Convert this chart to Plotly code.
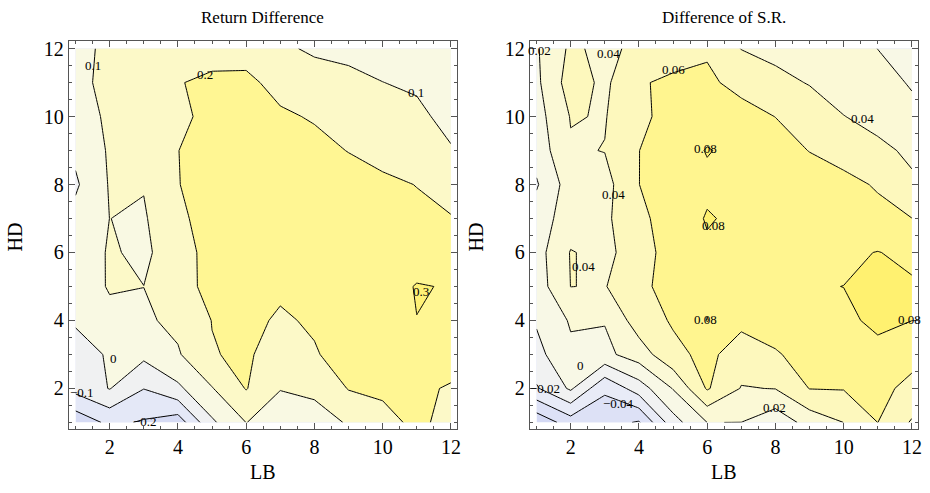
import plotly.graph_objects as go

# ---------------- data ----------------
LB = [1, 2, 3, 4, 5, 6, 7, 8, 9, 10, 11, 12]
HD = [1, 2, 3, 4, 5, 6, 7, 8, 9, 10, 11, 12]

# Return Difference (rows: HD = 1..12, columns: LB = 1..12)
ret_hd1 = [-0.268, -0.177, -0.21, -0.255, -0.016, 0.101, 0.07, 0.08, 0.104, 0.17, 0.22, 0.17]
ret_hd2 = [-0.068, 0.004, -0.098, -0.02, 0.095, 0.205, 0.102, 0.11, 0.205, 0.217, 0.21, 0.195]
ret_hd3 = [-0.04, 0.01, 0.023, 0.09, 0.195, 0.215, 0.15, 0.19, 0.25, 0.25, 0.25, 0.225]
ret_hd4 = [0.011, 0.068, 0.085, 0.123, 0.202, 0.23, 0.185, 0.215, 0.27, 0.27, 0.299, 0.27]
ret_hd5 = [0.03, 0.11, 0.1005, 0.16, 0.23, 0.24, 0.22, 0.25, 0.275, 0.26, 0.305, 0.295]
ret_hd6 = [0.04, 0.109, 0.083, 0.15, 0.24, 0.25, 0.26, 0.27, 0.27, 0.26, 0.255, 0.24]
ret_hd7 = [0.03, 0.1005, 0.09, 0.18, 0.24, 0.25, 0.25, 0.25, 0.25, 0.24, 0.22, 0.207]
ret_hd8 = [-0.014, 0.107, 0.105, 0.197, 0.24, 0.245, 0.245, 0.24, 0.23, 0.218, 0.198, 0.15]
ret_hd9 = [0.02, 0.111, 0.13, 0.199, 0.23, 0.24, 0.23, 0.22, 0.198, 0.17, 0.15, 0.108]
ret_hd10 = [0.04, 0.122, 0.14, 0.184, 0.22, 0.23, 0.21, 0.194, 0.16, 0.13, 0.123, 0.068]
ret_hd11 = [0.05, 0.15, 0.16, 0.195, 0.22, 0.215, 0.178, 0.16, 0.13, 0.101, 0.085, 0.07]
ret_hd12 = [0.06, 0.129, 0.15, 0.17, 0.16, 0.173, 0.123, 0.08, 0.07, 0.06, 0.05, 0.04]

# Difference of S.R. (rows: HD = 1..12, columns: LB = 1..12)
sr_hd1 = [-0.075, -0.05, -0.052, -0.062, -0.008, 0.0201, 0.0199, 0.006, 0.028, 0.0401, 0.0601, 0.038]
sr_hd2 = [-0.022, 0.003, -0.037, -0.01, 0.021, 0.062, 0.039, 0.0405, 0.0605, 0.061, 0.065, 0.055]
sr_hd3 = [-0.006, 0.016, 0.015, 0.03, 0.055, 0.065, 0.05, 0.058, 0.068, 0.07, 0.076, 0.066]
sr_hd4 = [0.002, 0.022, 0.021, 0.05, 0.062, 0.0805, 0.065, 0.07, 0.075, 0.077, 0.083, 0.0801]
sr_hd5 = [0.01, 0.0402, 0.039, 0.055, 0.068, 0.076, 0.078, 0.079, 0.079, 0.0801, 0.083, 0.082]
sr_hd6 = [0.012, 0.041, 0.035, 0.05, 0.07, 0.077, 0.077, 0.078, 0.078, 0.077, 0.0805, 0.076]
sr_hd7 = [0.01, 0.03, 0.036, 0.056, 0.068, 0.0815, 0.076, 0.075, 0.074, 0.073, 0.066, 0.0602]
sr_hd8 = [-0.002, 0.03, 0.033, 0.0598, 0.072, 0.076, 0.075, 0.073, 0.07, 0.0658, 0.058, 0.0434]
sr_hd9 = [0.008, 0.038, 0.0405, 0.0598, 0.07, 0.081, 0.075, 0.068, 0.0595, 0.052, 0.045, 0.036]
sr_hd10 = [0.012, 0.041, 0.039, 0.055, 0.068, 0.072, 0.066, 0.0598, 0.05, 0.0405, 0.033, 0.023]
sr_hd11 = [0.016, 0.049, 0.036, 0.059, 0.062, 0.063, 0.055, 0.045, 0.039, 0.03, 0.024, 0.019]
sr_hd12 = [0.018, 0.0435, 0.035, 0.045, 0.055, 0.058, 0.0395, 0.035, 0.03, 0.025, 0.0199, 0.015]

ret_levels = dict(start=-0.2, end=0.3, size=0.1)
sr_levels = dict(start=-0.06, end=0.08, size=0.02)

# contour labels (text, LB, HD)
ret_labels = [("0.1", 1.52, 11.5), ("0.2", 4.78, 11.24), ("0.1", 10.97, 10.72),
              ("0.3", 11.12, 4.86), ("0", 2.12, 2.88), ("\u22120.1", 1.2, 1.87),
              ("\u22120.2", 3.03, 1.02)]
sr_labels = [("0.02", 1.1, 11.95), ("0.04", 3.1, 11.86), ("0.06", 5.0, 11.39),
             ("0.04", 3.25, 7.72), ("0.08", 5.94, 9.05), ("0.04", 10.56, 9.95),
             ("0.08", 6.2, 6.79), ("0.04", 2.38, 5.59), ("0.08", 5.94, 4.03),
             ("0.08", 11.94, 4.03), ("0", 2.29, 2.67), ("\u22120.02", 1.25, 1.99),
             ("\u22120.04", 3.4, 1.56), ("0.02", 7.98, 1.45)]

ret_colors = ['#d6dbf4', '#e4e8f7', '#f0f1f2', '#f9f9e3', '#fcf9c8', '#fff693', '#fff176']
sr_colors = ['#d4d9f4', '#dde1f6', '#e8ebf7', '#f1f2f2', '#f8f8e6', '#fbf9d6',
             '#fdf8bd', '#fff58f', '#fff170']

# ---------------- figure ----------------
ret_z = [ret_hd1, ret_hd2, ret_hd3, ret_hd4, ret_hd5, ret_hd6,
         ret_hd7, ret_hd8, ret_hd9, ret_hd10, ret_hd11, ret_hd12]
sr_z = [sr_hd1, sr_hd2, sr_hd3, sr_hd4, sr_hd5, sr_hd6,
        sr_hd7, sr_hd8, sr_hd9, sr_hd10, sr_hd11, sr_hd12]


def scale(colors):
    n = len(colors) - 1
    return [[i / n, c] for i, c in enumerate(colors)]


SERIF = "Liberation Serif"
FRAME = "#555555"

fig = go.Figure()
fig.add_trace(go.Contour(
    x=LB, y=HD, z=ret_z, xaxis="x", yaxis="y",
    autocontour=False,
    contours=dict(coloring="fill", showlines=True, **ret_levels),
    colorscale=scale(ret_colors), showscale=False,
    line=dict(color="black", width=1, smoothing=0), hoverinfo="skip"))
fig.add_trace(go.Contour(
    x=LB, y=HD, z=sr_z, xaxis="x2", yaxis="y2",
    autocontour=False,
    contours=dict(coloring="fill", showlines=True, **sr_levels),
    colorscale=scale(sr_colors), showscale=False,
    line=dict(color="black", width=1, smoothing=0), hoverinfo="skip"))

W, H = 930, 493
left_px = (69, 459)
right_px = (532, 922)
top_px, bot_px = 38, 429

axis_common = dict(
    showline=True, linecolor=FRAME, linewidth=1, mirror="ticks",
    ticks="inside", ticklen=6, tickwidth=1, tickcolor=FRAME,
    tick0=0, dtick=2, showgrid=False, zeroline=False,
    minor=dict(dtick=0.5, ticklen=3.5, tickwidth=1, tickcolor=FRAME, ticks="inside", showgrid=False),
    tickfont=dict(family=SERIF, size=20, color="black"),
)

ydom = [(H - bot_px) / H, (H - top_px) / H]
fig.update_layout(
    width=W, height=H, margin=dict(l=0, r=0, t=0, b=0),
    paper_bgcolor="white", plot_bgcolor="white", showlegend=False,
    font=dict(family=SERIF, color="black"),
    xaxis=dict(domain=[left_px[0] / W, left_px[1] / W], range=[0.8, 12.18], anchor="y", **axis_common),
    yaxis=dict(domain=ydom, range=[0.795, 12.23], anchor="x", **axis_common),
    xaxis2=dict(domain=[right_px[0] / W, right_px[1] / W], range=[0.8, 12.18], anchor="y2", **axis_common),
    yaxis2=dict(domain=ydom, range=[0.795, 12.23], anchor="x2", **axis_common),
)

annots = []
for txt, xv, yv in ret_labels:
    annots.append(dict(text=txt, x=xv, y=yv, xref="x", yref="y", showarrow=False,
                       font=dict(family=SERIF, size=13, color="black")))
for txt, xv, yv in sr_labels:
    annots.append(dict(text=txt, x=xv, y=yv, xref="x2", yref="y2", showarrow=False,
                       font=dict(family=SERIF, size=13, color="black")))

titles = [("Return Difference", sum(left_px) / 2), ("Difference of S.R.", sum(right_px) / 2)]
for txt, cx in titles:
    annots.append(dict(text=txt, x=cx / W, y=1 - 15 / H, xref="paper", yref="paper",
                       showarrow=False, xanchor="center", yanchor="middle",
                       font=dict(family=SERIF, size=17, color="black")))
for cx in (sum(left_px) / 2, sum(right_px) / 2):
    annots.append(dict(text="LB", x=cx / W, y=1 - 472 / H, xref="paper", yref="paper",
                       showarrow=False, xanchor="center", yanchor="middle",
                       font=dict(family=SERIF, size=20, color="black")))
for cx in (15, 478):
    annots.append(dict(text="HD", x=cx / W, y=1 - 235 / H, xref="paper", yref="paper",
                       showarrow=False, xanchor="center", yanchor="middle", textangle=-90,
                       font=dict(family=SERIF, size=20, color="black")))
fig.update_layout(annotations=annots)

fig.write_html("out.html", config={"displayModeBar": False},
               post_script="document.body.style.margin='0px';")
